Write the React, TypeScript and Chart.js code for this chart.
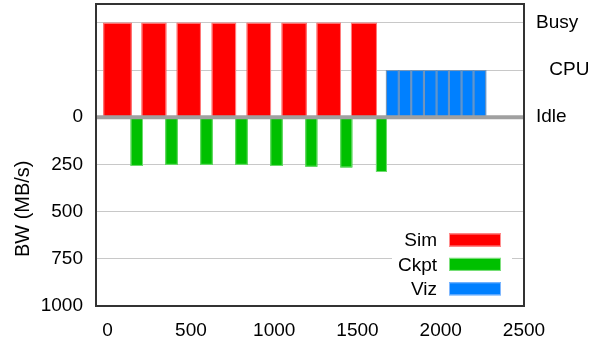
import React, { useEffect, useRef } from 'react';
import { Chart, registerables } from 'chart.js';

Chart.register(...registerables);

// ---- data ----
const xTickValues = [0, 500, 1000, 1500, 2000, 2500];
const bwTickValues = [0, 250, 500, 750, 1000];
const cpuTickValues = [-500, -250, 0];
const cpuTickLabels = ['Busy', '\u2002\u2009CPU', 'Idle'];
const BUSY = -500;
const VIZ_LEVEL = -250;

const simStart = [-26, 204, 415, 625, 835, 1045, 1255, 1461];
const simEnd = [144, 352, 560, 771, 981, 1195, 1401, 1617];

const ckptStart = [138, 346, 556, 766, 977, 1187, 1397, 1611];
const ckptEnd = [212, 421, 631, 841, 1051, 1259, 1469, 1677];
const ckptBW = [258, 252, 252, 252, 258, 262, 266, 290];

const vizStart = [1671, 1748, 1823, 1899, 1975, 2049, 2125, 2197];
const vizEnd = [1748, 1823, 1899, 1975, 2049, 2125, 2197, 2273];

const legendLabels = ['Sim', 'Ckpt', 'Viz'];
const legendColors = ['#ff0000', '#00c000', '#0080ff'];
const legendBorders = ['#ff9090', '#80e080', '#80b8ff'];

const FONT = "'Liberation Sans', Arial, Helvetica, sans-serif";
const FS = 19;

const barsPlugin = {
  id: 'customBars',
  beforeDatasetsDraw(chart: any) {
    const { ctx, chartArea, scales } = chart;
    const x = scales.x;
    const y = scales.y;
    ctx.save();
    ctx.beginPath();
    ctx.rect(chartArea.left, chartArea.top, chartArea.right - chartArea.left, chartArea.bottom - chartArea.top);
    ctx.clip();
    const rect = (x0: number, x1: number, y0: number, y1: number, fill: string, stroke: string) => {
      const px0 = x.getPixelForValue(x0);
      const px1 = x.getPixelForValue(x1);
      const py0 = y.getPixelForValue(y0);
      const py1 = y.getPixelForValue(y1);
      const l = Math.min(px0, px1), r = Math.max(px0, px1);
      const t = Math.min(py0, py1), b = Math.max(py0, py1);
      ctx.fillStyle = fill;
      ctx.fillRect(l, t, r - l, b - t);
      ctx.strokeStyle = stroke;
      ctx.lineWidth = 1;
      ctx.strokeRect(l + 0.5, t + 0.5, r - l - 1, b - t - 1);
    };
    for (let i = 0; i < simStart.length; i++) rect(simStart[i], simEnd[i], BUSY, 0, '#ff0000', '#ff8080');
    for (let i = 0; i < ckptStart.length; i++) rect(ckptStart[i], ckptEnd[i], 0, ckptBW[i], '#00c000', '#70dc70');
    for (let i = 0; i < vizStart.length; i++) rect(vizStart[i], vizEnd[i], 0, VIZ_LEVEL, '#0080ff', '#7f97b4');
    // zero line
    const z = y.getPixelForValue(0);
    ctx.strokeStyle = '#a0a0a0';
    ctx.lineWidth = 4;
    ctx.beginPath();
    ctx.moveTo(chartArea.left, z);
    ctx.lineTo(chartArea.right, z);
    ctx.stroke();
    ctx.restore();
  },
  afterDatasetsDraw(chart: any) {
    const { ctx, chartArea } = chart;
    ctx.save();
    // legend
    const lx = chartArea.right - 132;
    const ly = chartArea.bottom - 80;
    ctx.fillStyle = '#ffffff';
    ctx.fillRect(lx, ly, 120, 76);
    ctx.font = `${FS}px ${FONT}`;
    ctx.textAlign = 'right';
    ctx.textBaseline = 'middle';
    for (let i = 0; i < legendLabels.length; i++) {
      const cy = ly + 14 + i * 24.4;
      ctx.fillStyle = '#000000';
      ctx.fillText(legendLabels[i], lx + 45, cy + 1);
      ctx.fillStyle = legendColors[i];
      ctx.fillRect(lx + 57, cy - 6.5, 52, 13);
      ctx.strokeStyle = legendBorders[i];
      ctx.lineWidth = 1;
      ctx.strokeRect(lx + 57.5, cy - 6, 51, 12);
    }
    // frame
    ctx.strokeStyle = '#333333';
    ctx.lineWidth = 2;
    ctx.strokeRect(chartArea.left, chartArea.top, chartArea.right - chartArea.left, chartArea.bottom - chartArea.top);
    // y title
    ctx.fillStyle = '#000000';
    ctx.font = `20px ${FONT}`;
    ctx.textAlign = 'center';
    ctx.textBaseline = 'middle';
    ctx.translate(23, chart.scales.y.getPixelForValue(485));
    ctx.rotate(-Math.PI / 2);
    ctx.fillText('BW (MB/s)', 0, 0);
    ctx.restore();
  },
};

export default function App() {
  const ref = useRef<HTMLCanvasElement | null>(null);
  useEffect(() => {
    document.body.style.margin = '0';
    const canvas = ref.current;
    if (!canvas) return;
    const chart = new Chart(canvas, {
      type: 'scatter',
      data: { datasets: [] },
      options: {
        animation: false,
        responsive: false,
        devicePixelRatio: 1,
        layout: { autoPadding: false, padding: { top: 4, left: 0, right: 0, bottom: 0 } },
        plugins: { legend: { display: false }, tooltip: { enabled: false } },
        scales: {
          x: {
            type: 'linear',
            display: true,
            min: -70,
            max: 2500,
            afterBuildTicks: (s: any) => { s.ticks = xTickValues.map((v) => ({ value: v })); },
            afterFit: (s: any) => { s.height = 35; s.paddingLeft = 0; s.paddingRight = 0; },
            grid: { display: false },
            border: { display: false },
            ticks: {
              color: '#000',
              font: { family: FONT, size: FS },
              padding: 5,
              maxRotation: 0,
              autoSkip: false,
              callback: (v: any) => String(v),
            },
          },
          y: {
            type: 'linear',
            display: true,
            position: 'left',
            reverse: true,
            min: -600,
            max: 1000,
            afterBuildTicks: (s: any) => { s.ticks = [-500, -250, ...bwTickValues].map((v) => ({ value: v })); },
            afterFit: (s: any) => { s.width = 96; s.paddingTop = 0; s.paddingBottom = 0; },
            grid: {
              drawTicks: false,
              color: (c: any) => (c.tick && (c.tick.value === 0 || c.tick.value === 1000) ? 'rgba(0,0,0,0)' : '#c8c8c8'),
              lineWidth: 1,
            },
            border: { display: false },
            ticks: {
              color: '#000',
              font: { family: FONT, size: FS },
              padding: 13,
              autoSkip: false,
              callback: (v: any) => (bwTickValues.includes(Number(v)) ? String(v) : ''),
            },
          },
          y2: {
            type: 'linear',
            display: true,
            position: 'right',
            reverse: true,
            min: -600,
            max: 1000,
            afterBuildTicks: (s: any) => { s.ticks = cpuTickValues.map((v) => ({ value: v })); },
            afterFit: (s: any) => { s.width = 77; s.paddingTop = 0; s.paddingBottom = 0; },
            grid: { display: false, drawTicks: false },
            border: { display: false },
            ticks: {
              color: '#000',
              font: { family: FONT, size: FS },
              padding: 12,
              autoSkip: false,
              callback: (v: any) => {
                const i = cpuTickValues.indexOf(Number(v));
                return i >= 0 ? cpuTickLabels[i] : '';
              },
            },
          },
        },
      } as any,
      plugins: [barsPlugin],
    });
    return () => chart.destroy();
  }, []);
  return (
    <div style={{ width: 601, height: 341 }}>
      <canvas ref={ref} width={601} height={341} style={{ display: 'block' }} />
    </div>
  );
}
